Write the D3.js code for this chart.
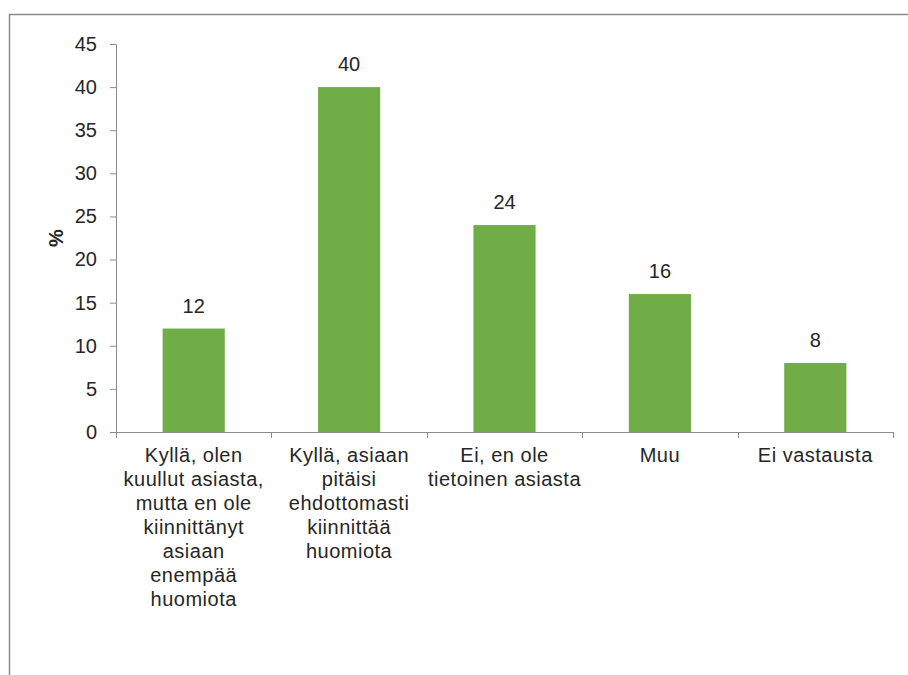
<!DOCTYPE html>
<html>
    <head>
        <meta charset="utf-8">
        <script src="https://cdn.jsdelivr.net/npm/d3@7"></script>
        <style>
            body { margin: 0; background: white; }
            text { font-family: Arial, "Liberation Sans", sans-serif; }
        </style>
        <script>
            // chart data
            var categories = ["c1", "c2", "c3", "c4", "c5"];
            var categoryLines = [
                ["Kyllä, olen", "kuullut asiasta,", "mutta en ole", "kiinnittänyt", "asiaan", "enempää", "huomiota"],
                ["Kyllä, asiaan", "pitäisi", "ehdottomasti", "kiinnittää", "huomiota"],
                ["Ei, en ole", "tietoinen asiasta"],
                ["Muu"],
                ["Ei vastausta"]
            ];
            var values = [12, 40, 24, 16, 8];
            var yTicks = [0, 5, 10, 15, 20, 25, 30, 35, 40, 45];

            function makeSVG() {

                var svg = d3.select("#fig");

                const width = +svg.attr("width");
                const height = +svg.attr("height");

                const margin = { left: 116, top: 44, right: 15, bottom: 243 };
                const txtCol = "#262626";
                const axCol = "#8c8c8c";

                // outer frame
                svg.append("rect")
                   .attr("x", 9.5).attr("y", 14.5)
                   .attr("width", width + 20).attr("height", height + 20)
                   .attr("fill", "none")
                   .attr("stroke", "#8a8a8a")
                   .attr("stroke-width", 1.5);

                // scales
                const xSc = d3.scaleBand()
                              .domain(categories)
                              .range([margin.left, width - margin.right])
                              .paddingInner(0.6)
                              .paddingOuter(0.3);

                const ySc = d3.scaleLinear()
                              .domain([0, 45])
                              .range([height - margin.bottom, margin.top]);

                // Y axis
                var yg = svg.append("g")
                            .attr("transform", `translate(${margin.left},0)`)
                            .call(d3.axisLeft(ySc).tickValues(yTicks).tickSize(6).tickPadding(13).tickSizeOuter(0));
                yg.select(".domain").attr("stroke", axCol);
                yg.selectAll(".tick line").attr("stroke", axCol);
                yg.selectAll(".tick text")
                  .attr("fill", txtCol)
                  .style("font-size", "20px")
                  .style("font-family", "Arial, 'Liberation Sans', sans-serif");

                // X axis line + boundary ticks
                const y0 = ySc(0);
                const step = xSc.step();
                const x0 = margin.left;
                const xg = svg.append("g");
                xg.append("line")
                  .attr("x1", x0).attr("x2", width - margin.right)
                  .attr("y1", y0 + 0.5).attr("y2", y0 + 0.5)
                  .attr("stroke", axCol);
                var bounds = d3.range(categories.length + 1).map(i => x0 + i * step);
                xg.selectAll("line.bt")
                  .data(bounds)
                  .enter()
                  .append("line")
                  .attr("class", "bt")
                  .attr("x1", d => Math.round(d) + 0.5).attr("x2", d => Math.round(d) + 0.5)
                  .attr("y1", y0).attr("y2", y0 + 6)
                  .attr("stroke", axCol);

                // bars
                svg.selectAll("rect.bar")
                   .data(values)
                   .enter()
                   .append("rect")
                   .attr("class", "bar")
                   .attr("x", (d, i) => xSc(categories[i]))
                   .attr("width", xSc.bandwidth())
                   .attr("y", d => ySc(d))
                   .attr("height", d => y0 - ySc(d))
                   .attr("fill", "#70ad47");

                // value labels
                svg.selectAll("text.val")
                   .data(values)
                   .enter()
                   .append("text")
                   .attr("class", "val")
                   .attr("x", (d, i) => xSc(categories[i]) + xSc.bandwidth() / 2)
                   .attr("y", d => ySc(d) - 16)
                   .attr("text-anchor", "middle")
                   .attr("fill", txtCol)
                   .style("font-size", "20px")
                   .text(d => d);

                // category labels
                var cl = svg.selectAll("text.cat")
                            .data(categoryLines)
                            .enter()
                            .append("text")
                            .attr("class", "cat")
                            .attr("text-anchor", "middle")
                            .attr("fill", txtCol)
                            .style("font-size", "20px")
                            .style("letter-spacing", "0.5px")
                            .attr("transform", (d, i) => `translate(${xSc(categories[i]) + xSc.bandwidth() / 2},${y0 + 30})`);
                cl.selectAll("tspan")
                  .data(d => d)
                  .enter()
                  .append("tspan")
                  .attr("x", 0)
                  .attr("y", (d, j) => j * 24)
                  .text(d => d);

                // y title
                svg.append("text")
                   .attr("transform", `translate(63,${(margin.top + y0) / 2}) rotate(-90)`)
                   .attr("text-anchor", "middle")
                   .attr("fill", txtCol)
                   .style("font-size", "20px")
                   .style("font-weight", "bold")
                   .text("%");
            }
        </script>
    </head>
    <body onload="makeSVG()">

        <svg id="fig" width="908" height="675"></svg>

    </body>
</html>
